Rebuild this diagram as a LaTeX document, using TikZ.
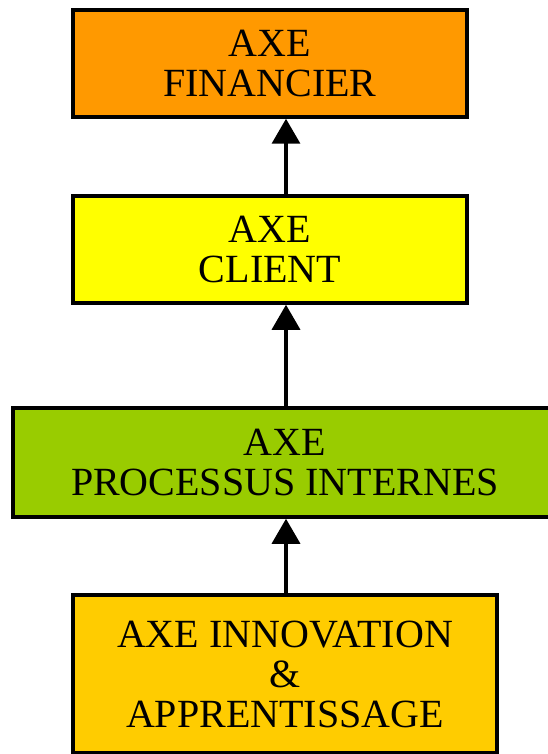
\documentclass[tikz,border=0pt]{standalone}
\usepackage{fontspec}
\setmainfont{Liberation Serif}
\usetikzlibrary{arrows.meta}
\definecolor{cfin}{HTML}{FF9900}
\definecolor{ccli}{HTML}{FFFF00}
\definecolor{cpro}{HTML}{99CC00}
\definecolor{cinn}{HTML}{FFCC00}
\begin{document}
\begin{tikzpicture}[x=1pt,y=-1pt,
  axebox/.style={draw=black, line width=3.5pt, rectangle, align=center, inner sep=0pt,
    font=\fontsize{40}{40}\selectfont},
  arr/.style={line width=3.5pt, -{Triangle[width=28pt,length=25pt]}}]
\useasboundingbox (0,0) rectangle (548,754);
\node[axebox, fill=cfin, minimum width=394pt, minimum height=107pt] (b1) at (270,63.5) {AXE\\FINANCIER};
\node[axebox, fill=ccli, minimum width=394pt, minimum height=107pt] (b2) at (270,249.5) {AXE\\CLIENT};
\node[axebox, fill=cpro, minimum width=560pt, minimum height=109pt] (b3) at (293,462.5) {};
\node[font=\fontsize{40}{40}\selectfont, align=center, inner sep=0pt] (t3) at (285,462.5) {AXE\\PROCESSUS INTERNES};
\node[axebox, fill=cinn, minimum width=424pt, minimum height=158pt] (b4) at (285,674) {AXE INNOVATION\\\&\\APPRENTISSAGE};
\coordinate (ax) at (286,0);
\draw[arr] (b2.north -| ax) -- (b1.south -| ax);
\draw[arr] (b3.north -| ax) -- (b2.south -| ax);
\draw[arr] (b4.north -| ax) -- (b3.south -| ax);
\end{tikzpicture}
\end{document}
